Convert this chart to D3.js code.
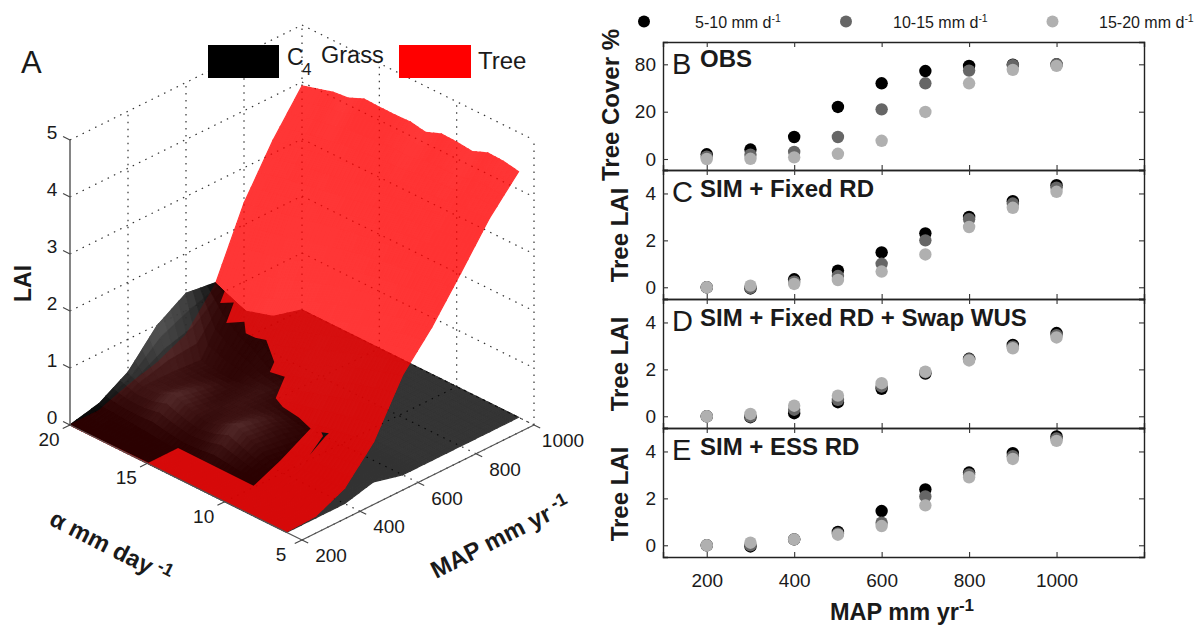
<!DOCTYPE html>
<html>
<head>
	<title></title>
	<meta charset="utf-8">
	<script src="https://d3js.org/d3.v7.min.js"></script>
	<style>
		body { margin: 0; background: #fff; }
		text { font-family: "Liberation Sans", Arial, sans-serif; fill: #1a1a1a; }
	</style>
</head>
<body>

	<script type="text/javascript">

		// MAP steps shared by the surface and the scatter panels
		var mapValues = [200, 300, 400, 500, 600, 700, 800, 900, 1000]
		// alpha rows of the surface, back to front
		var alphaValues = [20, 19, 18, 17, 16, 15, 14, 13, 12, 11, 10, 9, 8, 7, 6]

		// panel A, LAI per alpha row (one column per MAP step)
		var treeLai = [
			[0, 0, .19, .33, .57, 1.19, 2.38, 3.23, 3.93],
			[0, 0, .18, .33, .60, 1.25, 2.46, 3.30, 4.01],
			[0, 0, .17, .34, .63, 1.32, 2.52, 3.36, 4.09],
			[0, 0, .16, .35, .68, 1.40, 2.57, 3.41, 4.12],
			[0, 0, .16, .37, .74, 1.50, 2.63, 3.45, 4.24],
			[0, .01, .16, .40, .82, 1.62, 2.70, 3.49, 4.23],
			[.01, .03, .17, .44, .92, 1.73, 2.76, 3.53, 4.23],
			[.01, .03, .18, .48, 1.02, 1.84, 2.82, 3.56, 4.24],
			[.01, .03, .19, .52, 1.12, 1.93, 2.87, 3.59, 4.19],
			[.01, .03, .20, .57, 1.24, 2.02, 2.91, 3.62, 4.30],
			[.01, .03, .22, .62, 1.36, 2.10, 2.94, 3.65, 4.29],
			[.01, .03, .23, .68, 1.48, 2.17, 2.97, 3.68, 4.26],
			[.01, .03, .25, .73, 1.58, 2.24, 2.99, 3.71, 4.37],
			[.01, .03, .26, .78, 1.67, 2.29, 3.01, 3.73, 4.36],
			[.01, .03, .27, .83, 1.75, 2.33, 3.03, 3.75, 4.31]
		]
		var grassLai = [
			[0, .12, .42, .98, 1.30, 1.23, .49, .14, 0],
			[0, .10, .30, .30, .26, 1.10, .40, .10, 0],
			[0, .08, .32, .28, .22, .81, .30, .06, 0],
			[0, .06, .44, .32, .20, .65, .18, .03, 0],
			[0, .03, .32, .24, .24, .36, .08, 0, 0],
			[0, 0, .24, .28, .28, .20, .02, 0, 0],
			[0, 0, .30, .28, .22, .05, 0, 0, 0],
			[0, 0, .44, .32, .12, 0, 0, 0, 0],
			[0, 0, .30, .24, .06, 0, 0, 0, 0],
			[0, 0, .15, .06, 0, 0, 0, 0, 0],
			[0, 0, 0, 0, 0, 0, 0, 0, 0],
			[0, 0, 0, 0, 0, 0, 0, 0, 0],
			[0, 0, 0, 0, 0, 0, 0, 0, 0],
			[0, 0, 0, 0, 0, 0, 0, 0, 0],
			[0, 0, 0, .13, 0, 0, 0, 0, 0]
		]

		// outline of the part where grass was painted over the tree, as [MAP, alpha] on the floor plane
		var grassOverOutline = [
			[200, 20], [618, 28.5], [993, 25.4], [951, 24.6], [938, 23.8], [883, 23.1], [909, 22.7],
			[824, 21.6], [860, 21.1], [822, 20.3], [823, 19.7], [834, 19.2], [771, 17.5], [729, 17],
			[738, 16.2], [648, 15.1], [630, 14.3], [621, 13.1], [603, 12], [442, 10.9], [305, 10.1],
			[306, 15], [204, 15]
		]
		// the thin black sliver next to it
		var sliverOutline = [[509, 10.3], [601, 11], [618, 11.1], [608, 11.4], [598, 11.1]]

		var laiTicks = [0, 1, 2, 3, 4, 5]
		var alphaTicks = [20, 15, 10, 5]
		var mapTicks = [200, 400, 600, 800, 1000]

		// panel B
		var obsBlack = [2, 4, 9.3, 26, 56, 71.5, 78, 79.6, 80]
		var obsDark = [1, 1.8, 3, 9.3, 23, 56, 72, 79, 80]
		var obsLight = [0, .1, .7, 2.2, 7.7, 19.9, 56, 73, 78]
		// panel C
		var fixedBlack = [0, -.05, .34, .71, 1.49, 2.3, 3, 3.67, 4.35]
		var fixedDark = [0, -.03, .24, .48, 1, 2, 2.9, 3.57, 4.25]
		var fixedLight = [0, .07, .14, .31, .67, 1.4, 2.57, 3.39, 4.07]
		// panel D
		var swapBlack = [0, -.04, .13, .6, 1.17, 1.82, 2.45, 3.04, 3.55]
		var swapDark = [0, -.01, .28, .7, 1.27, 1.87, 2.43, 2.97, 3.46]
		var swapLight = [0, .1, .45, .88, 1.41, 1.9, 2.38, 2.9, 3.36]
		// panel E
		var essBlack = [0, -.05, .25, .57, 1.46, 2.38, 3.1, 3.93, 4.64]
		var essDark = [0, 0, .25, .5, .96, 2.08, 3.02, 3.8, 4.55]
		var essLight = [0, .11, .25, .45, .82, 1.7, 2.9, 3.68, 4.45]

		var seriesNames = ["5-10 mm d", "10-15 mm d", "15-20 mm d"]
		var seriesColors = ["#000000", "#666666", "#b0b0b0"]

		var svg = d3.select("body").append("svg")
			.attr("width", 1199)
			.attr("height", 625)

		//**********************************************************************************
		// Panel A: the projection is three linear scales added up
		//**********************************************************************************
		var mapX = d3.scaleLinear().domain([200, 1000]).range([0, 232])
		var mapY = d3.scaleLinear().domain([200, 1000]).range([0, -115])
		var alphaX = d3.scaleLinear().domain([5, 20]).range([0, -232])
		var alphaY = d3.scaleLinear().domain([5, 20]).range([0, -115])
		var laiY = d3.scaleLinear().domain([0, 5]).range([0, -285])

		function project(m, a, z) {
			return [302 + mapX(m) + alphaX(a), 540 + mapY(m) + alphaY(a) + laiY(z)]
		}

		var path3d = d3.line()

		function line3d(sel, from, to, color, dash, width) {
			sel.append("path")
				.attr("d", path3d([project(from[0], from[1], from[2]), project(to[0], to[1], to[2])]))
				.attr("fill", "none")
				.attr("stroke", color)
				.attr("stroke-width", width)
				.attr("stroke-dasharray", dash)
		}

		var grid = svg.append("g")
		var dots = "1.5 5.5"
		laiTicks.forEach(function (z) {
			line3d(grid, [200, 20, z], [1000, 20, z], "#333", dots, 1.2)
			line3d(grid, [1000, 20, z], [1000, 5, z], "#333", dots, 1.2)
		})
		mapTicks.slice(1).forEach(function (m) {
			line3d(grid, [m, 20, 0], [m, 20, 5], "#333", dots, 1.2)
			line3d(grid, [m, 5, 0], [m, 20, 0], "#333", dots, 1.2)
		})
		alphaTicks.forEach(function (a) {
			if (a < 20) line3d(grid, [1000, a, 0], [1000, a, 5], "#333", dots, 1.2)
			line3d(grid, [200, a, 0], [1000, a, 0], "#333", dots, 1.2)
		})

		// shading is only smoothed inside a cell, the cell corners stay the values above
		var grassShade = d3.scaleLinear().domain([0, .2, .3, .44, .9, 1.4]).range([0, 5, 24, 52, 88, 55]).clamp(true)
		var steps = 4

		function mix(a, b, c, d, s, t) {
			return (a * (1 - s) + b * s) * (1 - t) + (d * (1 - s) + c * s) * t
		}

		function drawSurface(layer, values, shadeOf, colorOf) {
			d3.range(alphaValues.length - 1).forEach(function (i) {
				d3.range(mapValues.length - 1).forEach(function (j) {
					var zs = [values[i][j], values[i][j + 1], values[i + 1][j + 1], values[i + 1][j]]
					var cs = [shadeOf(i, j), shadeOf(i, j + 1), shadeOf(i + 1, j + 1), shadeOf(i + 1, j)]
					var at = function (s, t) {
						var m = mapValues[j] + (mapValues[j + 1] - mapValues[j]) * s
						var a = alphaValues[i] + (alphaValues[i + 1] - alphaValues[i]) * t
						return project(m, a, mix(zs[0], zs[1], zs[2], zs[3], s, t))
					}
					d3.range(steps).forEach(function (p) {
						d3.range(steps).forEach(function (q) {
							var s0 = p / steps, s1 = (p + 1) / steps, t0 = q / steps, t1 = (q + 1) / steps
							var c = colorOf(mix(cs[0], cs[1], cs[2], cs[3], (s0 + s1) / 2, (t0 + t1) / 2))
							layer.append("path")
								.attr("d", path3d([at(s0, t0), at(s1, t0), at(s1, t1), at(s0, t1)]) + "Z")
								.attr("fill", c)
								.attr("stroke", c)
								.attr("stroke-width", 1.2)
						})
					})
				})
			})
		}

		// the ridge past MAP 700 stays dark in the picture
		function grassNode(i, j) { return j < 5 ? grassShade(grassLai[i][j]) : 3 }
		function grassColor(v) { var s = Math.round(v); return d3.rgb(s, s, s).toString() }

		function treeNode(i, j) {
			var k = i < alphaValues.length - 1 ? i + 1 : i - 1
			return Math.min(14, Math.abs(treeLai[i][j] - treeLai[k][j]) * 70)
		}
		function treeColor(v) { var s = Math.round(v); return d3.rgb(255, s, s).toString() }

		svg.append("clipPath").attr("id", "grassOver")
			.append("path")
			.attr("d", path3d(grassOverOutline.map(function (d) { return project(d[0], d[1], 0) })) + "Z")

		drawSurface(svg.append("g").attr("opacity", .8), grassLai, grassNode, grassColor)
		drawSurface(svg.append("g").attr("opacity", .8), treeLai, treeNode, treeColor)
		drawSurface(svg.append("g").attr("opacity", .8).attr("clip-path", "url(#grassOver)"), grassLai, grassNode, grassColor)

		svg.append("path")
			.attr("d", path3d(sliverOutline.map(function (d) { return project(d[0], d[1], 0) })) + "Z")
			.attr("fill", "#111")

		// axes of panel A
		var axes3d = svg.append("g")
		line3d(axes3d, [200, 20, 0], [200, 20, 5], "#666", null, 1.6)
		line3d(axes3d, [200, 20, 0], [200, 5, 0], "#555", null, 1.2)
		line3d(axes3d, [200, 5, 0], [1000, 5, 0], "#555", null, 1.2)
		laiTicks.forEach(function (z) {
			line3d(axes3d, [200, 20, z], [200, 20.45, z], "#444", null, 1.1)
			axes3d.append("text").attr("x", 52).attr("y", project(200, 20, z)[1] - 1.5)
				.attr("text-anchor", "middle").attr("font-size", 19).text(z)
		})
		alphaTicks.forEach(function (a) {
			line3d(axes3d, [200, a, 0], [175, a, 0], "#444", null, 1.1)
			var p = project(200, a, 0)
			axes3d.append("text").attr("x", p[0] - 21).attr("y", p[1] + 21)
				.attr("text-anchor", "middle").attr("font-size", 19).text(a)
		})
		mapTicks.forEach(function (m) {
			line3d(axes3d, [m, 5, 0], [m, 4.6, 0], "#444", null, 1.1)
			var p = project(m, 5, 0)
			axes3d.append("text").attr("x", p[0] + 29).attr("y", p[1] + 22)
				.attr("text-anchor", "middle").attr("font-size", 19).text(m)
		})

		// text with a superscript -1 at the end
		function withSuper(sel, label, gap, supSize, rise) {
			sel.append("tspan").text(label)
			sel.append("tspan").attr("dy", -rise).attr("font-size", supSize).text(gap ? " -1" : "-1")
		}

		svg.append("text").attr("x", 21).attr("y", 73).attr("font-size", 31).text("A")
		svg.append("text").attr("transform", "translate(31,302) rotate(-90)")
			.attr("font-size", 23).attr("font-weight", "bold").text("LAI")

		var alphaLabel = svg.append("text").attr("transform", "translate(48,524) rotate(27)")
			.attr("font-size", 24).attr("font-weight", "bold")
		withSuper(alphaLabel, "\u03b1 mm day", true, 18, 8)

		var mapLabel3d = svg.append("text").attr("transform", "translate(436,579) rotate(-27)")
			.attr("font-size", 24).attr("font-weight", "bold")
		withSuper(mapLabel3d, "MAP mm yr", true, 18, 8)

		// legend of panel A
		svg.append("rect").attr("x", 208).attr("y", 45).attr("width", 71).attr("height", 33).attr("fill", "#000")
		svg.append("rect").attr("x", 399).attr("y", 45).attr("width", 72).attr("height", 33).attr("fill", "#f00")
		svg.append("text").attr("x", 287).attr("y", 65).attr("font-size", 23).text("C")
		svg.append("text").attr("x", 302).attr("y", 75).attr("font-size", 17).text("4")
		svg.append("text").attr("x", 321).attr("y", 63).attr("font-size", 23.5).text("Grass")
		svg.append("text").attr("x", 478).attr("y", 69).attr("font-size", 24).text("Tree")

		//**********************************************************************************
		// Panels B to E: one scatter stacked on the other
		//**********************************************************************************
		var x = d3.scaleLinear().domain([100, 1200]).range([663, 1144])

		var panels = [
			{ letter: "B", title: "OBS", series: [obsBlack, obsDark, obsLight], ylabel: "Tree Cover %", ticks: [0, 20, 80],
				y: d3.scaleLinear().domain([-4.6, 0, 20, 80, 108]).range([170, 159, 111.7, 64.3, 42]) },
			{ letter: "C", title: "SIM + Fixed RD", series: [fixedBlack, fixedDark, fixedLight], ylabel: "Tree LAI", ticks: [0, 2, 4],
				y: d3.scaleLinear().domain([-.5, 5]).range([299, 170]) },
			{ letter: "D", title: "SIM + Fixed RD + Swap WUS", series: [swapBlack, swapDark, swapLight], ylabel: "Tree LAI", ticks: [0, 2, 4],
				y: d3.scaleLinear().domain([-.5, 5]).range([428, 299]) },
			{ letter: "E", title: "SIM + ESS RD", series: [essBlack, essDark, essLight], ylabel: "Tree LAI", ticks: [0, 2, 4],
				y: d3.scaleLinear().domain([-.5, 5]).range([557, 428]) }
		]

		panels.forEach(function (panel, n) {
			var g = svg.append("g")
			var top = panel.y.range()[panel.y.range().length - 1]
			var bottom = panel.y.range()[0]

			g.append("g").call(d3.axisLeft(panel.y).tickValues(panel.ticks).tickSize(-5).tickPadding(7).tickFormat(d3.format("d")))
				.attr("transform", "translate(663,0)")
			g.append("g").call(d3.axisRight(panel.y).tickValues(panel.ticks).tickSize(-5).tickFormat(""))
				.attr("transform", "translate(1144,0)")
			g.append("g").call(d3.axisTop(x).tickValues(mapTicks).tickSize(-5).tickFormat(""))
				.attr("transform", "translate(0," + top + ")")
			var bottomAxis = d3.axisBottom(x).tickValues(mapTicks).tickSize(-5).tickPadding(17).tickFormat(d3.format("d"))
			if (n < 3) bottomAxis.tickFormat("")
			g.append("g").call(bottomAxis).attr("transform", "translate(0," + bottom + ")")

			g.selectAll(".domain").attr("stroke", "#222").attr("stroke-width", 1.4)
			g.selectAll(".tick line").attr("stroke", "#333").attr("stroke-width", 1.1)
			g.selectAll(".tick text").attr("font-size", 19).attr("font-family", '"Liberation Sans"').attr("fill", "#1a1a1a")

			panel.series.forEach(function (values, s) {
				g.append("g").selectAll("circle")
					.data(values)
					.enter()
					.append("circle")
					.attr("cx", function (d, i) { return x(mapValues[i]) })
					.attr("cy", function (d) { return panel.y(d) })
					.attr("r", 6.2)
					.attr("fill", seriesColors[s])
			})

			g.append("text").attr("x", 672).attr("y", top + 32).attr("font-size", 29).text(panel.letter)
			g.append("text").attr("x", 700).attr("y", top + (n == 0 ? 25 : 27)).attr("font-size", 24)
				.attr("font-weight", "bold").text(panel.title)
		})

		var yLabelPos = [[619, 105], [628, 235], [628, 364], [628, 494]]
		panels.forEach(function (panel, n) {
			svg.append("text")
				.attr("transform", "translate(" + yLabelPos[n][0] + "," + yLabelPos[n][1] + ") rotate(-90)")
				.attr("text-anchor", "middle").attr("font-size", 24).attr("font-weight", "bold")
				.text(panel.ylabel)
		})

		var mapLabel = svg.append("text").attr("x", 830).attr("y", 620).attr("font-size", 23.5).attr("font-weight", "bold")
		withSuper(mapLabel, "MAP mm yr", false, 17, 9)

		// legend across the top
		var legendDotX = [644, 846, 1052.5]
		var legendTextX = [695, 893, 1099]
		seriesNames.forEach(function (name, s) {
			svg.append("circle").attr("cx", legendDotX[s]).attr("cy", 21.5).attr("r", 6).attr("fill", seriesColors[s])
			var t = svg.append("text").attr("x", legendTextX[s]).attr("y", 28).attr("font-size", 16)
			withSuper(t, name, false, 10.5, 6)
		})

	</script>

</body>
</html>
